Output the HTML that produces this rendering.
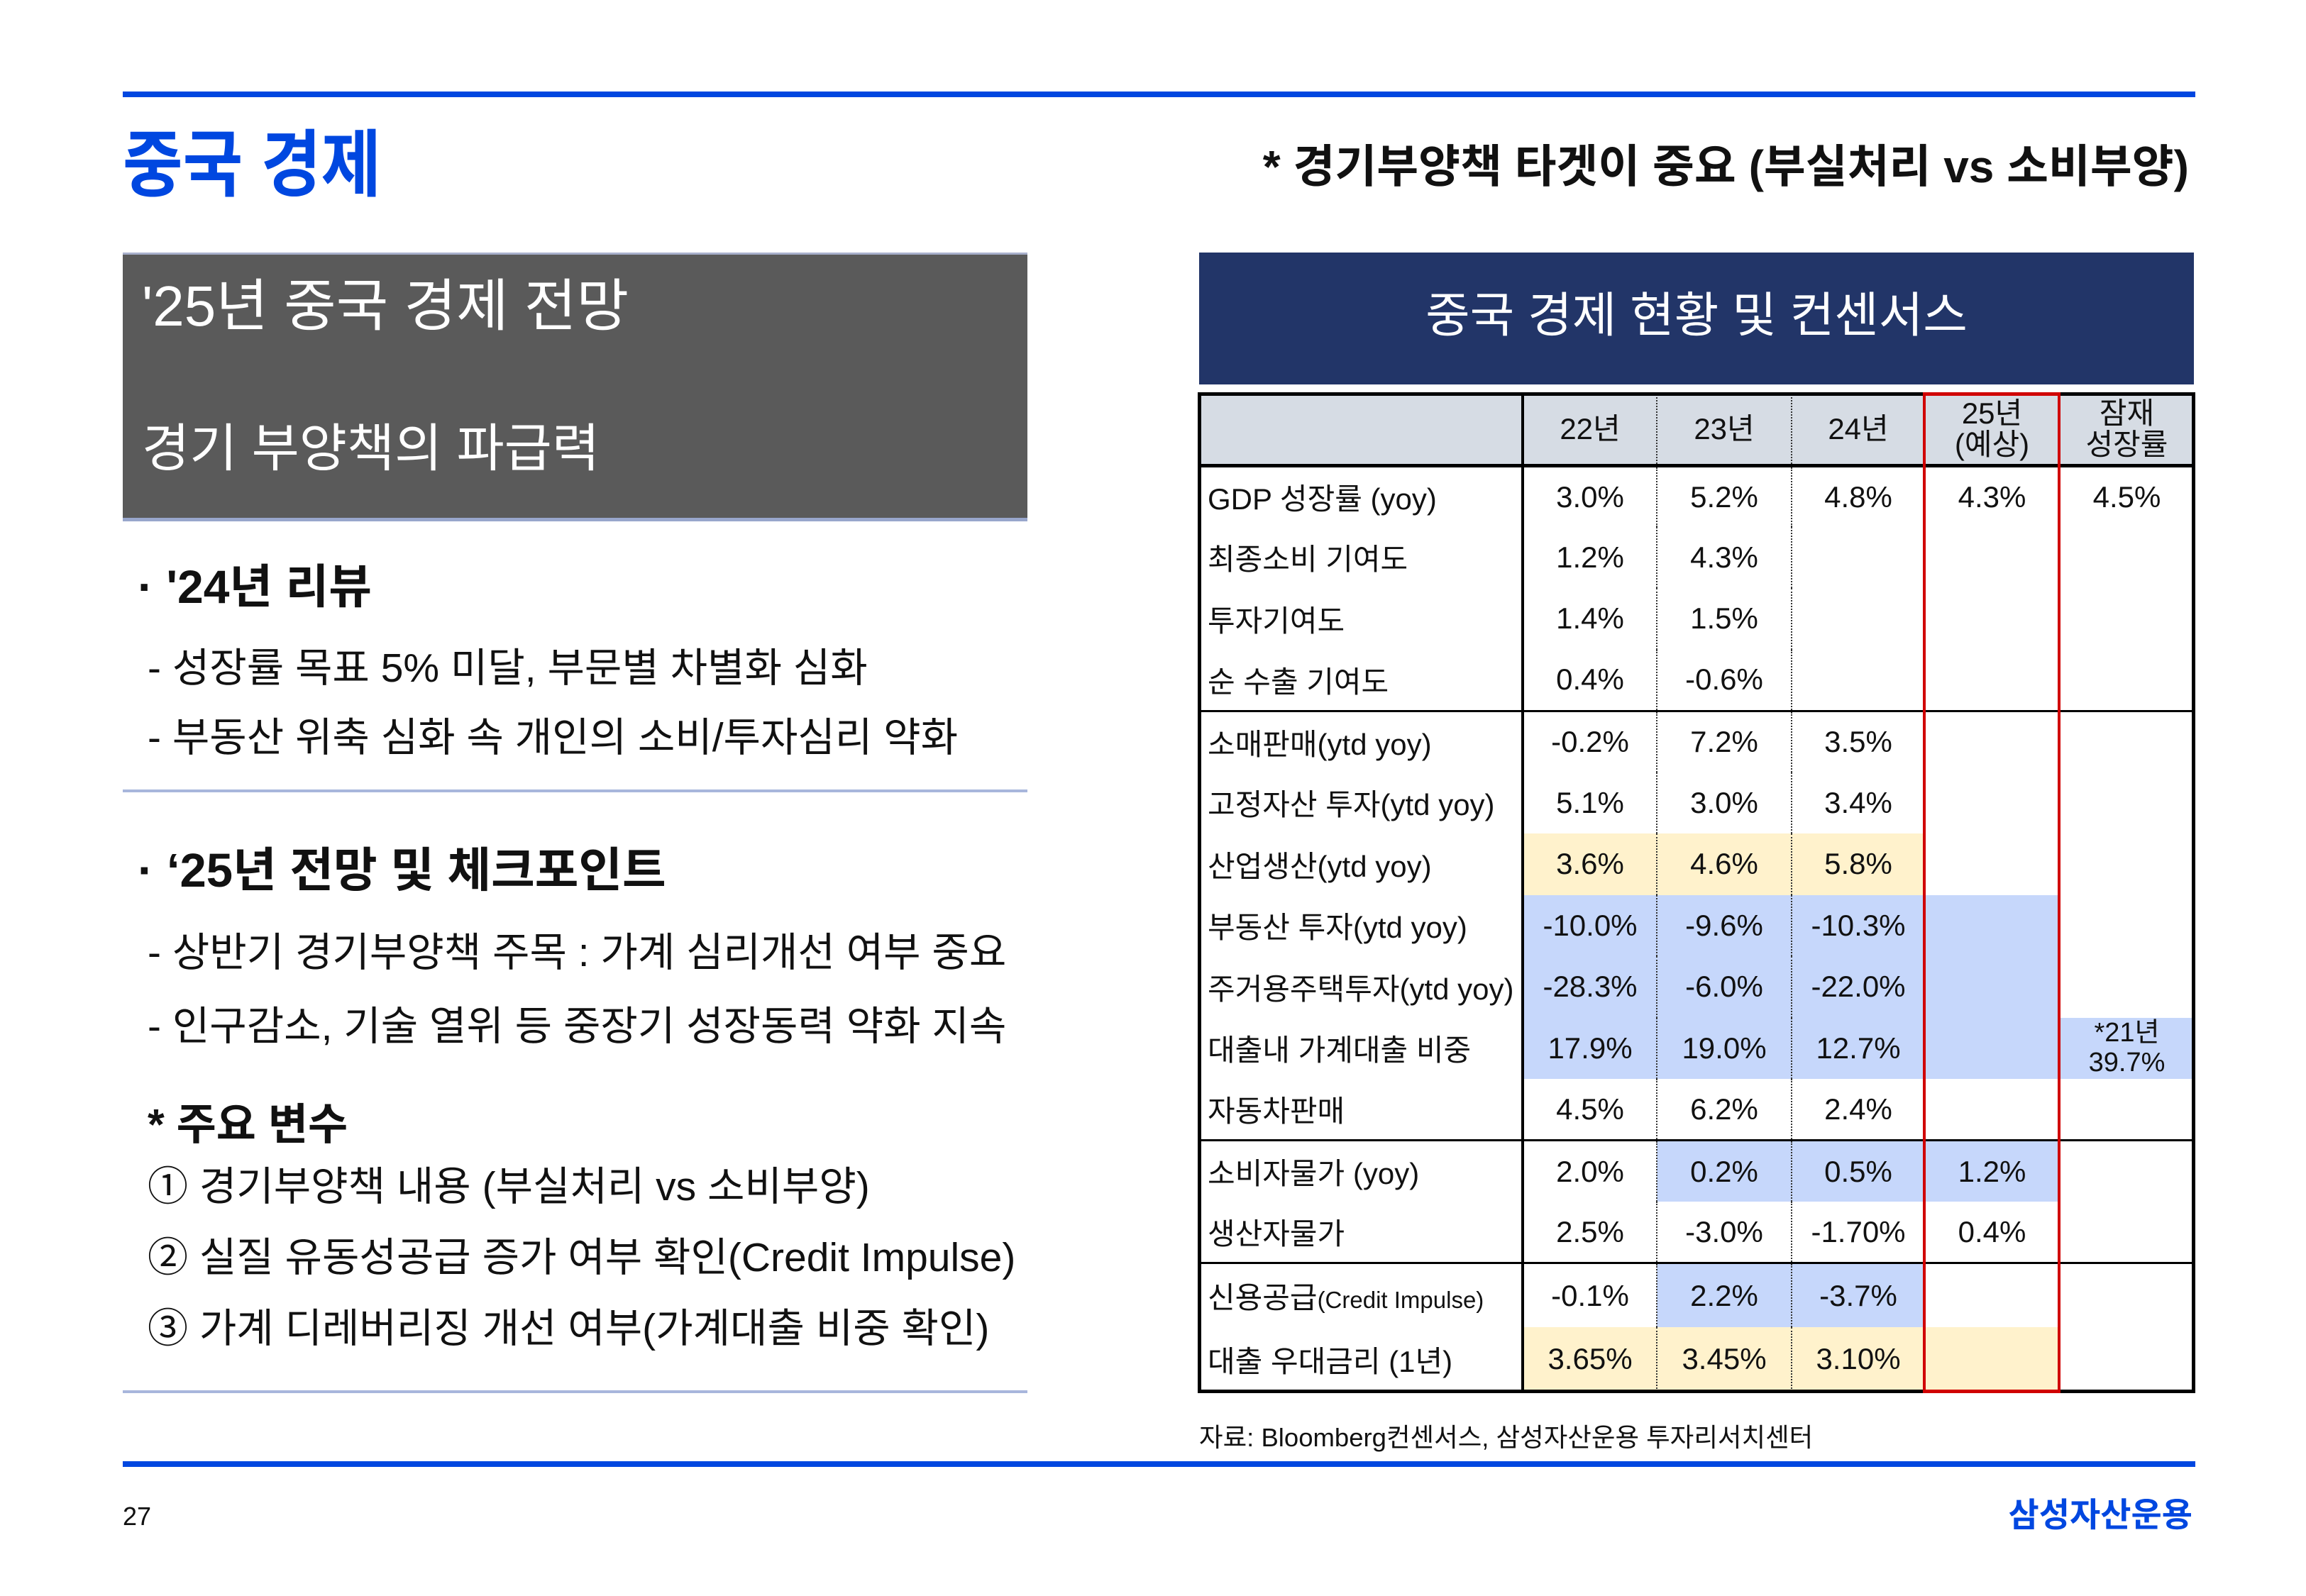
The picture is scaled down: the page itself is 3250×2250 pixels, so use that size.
<!DOCTYPE html>
<html><head><meta charset="utf-8">
<style>
*{margin:0;padding:0;box-sizing:border-box}
body{width:3250px;height:2250px;background:#fff;position:relative;overflow:hidden;font-family:"Liberation Sans","Noto Sans CJK KR",sans-serif;color:#111}
.a{position:absolute;white-space:nowrap;line-height:1}
.hl{position:absolute;height:8px;background:#0047e0}
.sep{position:absolute;left:173px;width:1275px;height:4px;background:#a8b6dc}
table{position:absolute;left:1690px;top:556px;width:1402px;border-collapse:collapse;table-layout:fixed;font-size:42px}
td{text-align:center;vertical-align:middle;white-space:nowrap;padding:0;border-left:2px dotted #333}
td:first-child{text-align:left;padding-left:12px;border-left:none;border-right:4px solid #000}
tr.h td{background:#d6dce4;height:100px;line-height:1.05;border-bottom:5px solid #000}
tr td{height:86.5px}
tr.g td{border-top:3px solid #000}
tr.r4 td{height:90.5px}
.y{background:#fff2cc}
.b{background:#c6d7fb}
</style></head><body>
<div class="hl" style="left:173px;top:129px;width:2921px"></div>
<div class="a" style="left:173px;top:182px;font-size:92px;font-weight:bold;color:#0047e0;transform:scaleY(1.12);transform-origin:top left">중국 경제</div>
<div class="a" style="right:165px;top:203px;font-size:64px;font-weight:bold">* 경기부양책 타겟이 중요 (부실처리 vs 소비부양)</div>

<div style="position:absolute;left:173px;top:356px;width:1275px;height:379px;background:#5a5a5a;border-top:3px solid #a8b0cc;border-bottom:5px solid #98a6cc"></div>
<div class="a" style="left:200px;top:392px;font-size:80px;color:#fff">'25년 중국 경제 전망</div>
<div class="a" style="left:200px;top:596px;font-size:73px;color:#fff">경기 부양책의 파급력</div>

<div class="a" style="left:194px;top:794px;font-size:66px;font-weight:bold">· '24년 리뷰</div>
<div class="a" style="left:208px;top:914px;font-size:57px">- 성장률 목표 5% 미달, 부문별 차별화 심화</div>
<div class="a" style="left:208px;top:1012px;font-size:57px">- 부동산 위축 심화 속 개인의 소비/투자심리 약화</div>
<div class="sep" style="top:1113px"></div>

<div class="a" style="left:194px;top:1194px;font-size:67px;font-weight:bold">· ‘25년 전망 및 체크포인트</div>
<div class="a" style="left:208px;top:1315px;font-size:57px">- 상반기 경기부양책 주목 : 가계 심리개선 여부 중요</div>
<div class="a" style="left:208px;top:1419px;font-size:57px">- 인구감소, 기술 열위 등 중장기 성장동력 약화 지속</div>
<div class="a" style="left:208px;top:1555px;font-size:61px;font-weight:bold">* 주요 변수</div>
<div class="a" style="left:208px;top:1645px;font-size:57px">① 경기부양책 내용 (부실처리 vs 소비부양)</div>
<div class="a" style="left:208px;top:1745px;font-size:57px">② 실질 유동성공급 증가 여부 확인(Credit Impulse)</div>
<div class="a" style="left:208px;top:1845px;font-size:57px">③ 가계 디레버리징 개선 여부(가계대출 비중 확인)</div>
<div class="sep" style="top:1960px"></div>

<div style="position:absolute;left:1690px;top:356px;width:1402px;height:186px;background:#223568"></div>
<div class="a" style="left:1690px;width:1402px;text-align:center;top:411px;font-size:68px;color:#fff">중국 경제 현황 및 컨센서스</div>

<table>
<colgroup><col style="width:456px"><col style="width:189px"><col style="width:190px"><col style="width:188px"><col style="width:189px"><col style="width:190px"></colgroup>
<tr class="h"><td></td><td>22년</td><td>23년</td><td>24년</td><td>25년<br>(예상)</td><td>잠재<br>성장률</td></tr>
<tr><td>GDP 성장률 (yoy)</td><td>3.0%</td><td>5.2%</td><td>4.8%</td><td>4.3%</td><td>4.5%</td></tr>
<tr><td>최종소비 기여도</td><td>1.2%</td><td>4.3%</td><td></td><td></td><td></td></tr>
<tr><td>투자기여도</td><td>1.4%</td><td>1.5%</td><td></td><td></td><td></td></tr>
<tr><td>순 수출 기여도</td><td>0.4%</td><td>-0.6%</td><td></td><td></td><td></td></tr>
<tr class="g"><td>소매판매(ytd yoy)</td><td>-0.2%</td><td>7.2%</td><td>3.5%</td><td></td><td></td></tr>
<tr><td>고정자산 투자(ytd yoy)</td><td>5.1%</td><td>3.0%</td><td>3.4%</td><td></td><td></td></tr>
<tr><td>산업생산(ytd yoy)</td><td class="y">3.6%</td><td class="y">4.6%</td><td class="y">5.8%</td><td></td><td></td></tr>
<tr><td>부동산 투자(ytd yoy)</td><td class="b">-10.0%</td><td class="b">-9.6%</td><td class="b">-10.3%</td><td class="b"></td><td></td></tr>
<tr><td>주거용주택투자(ytd yoy)</td><td class="b">-28.3%</td><td class="b">-6.0%</td><td class="b">-22.0%</td><td class="b"></td><td></td></tr>
<tr><td>대출내 가계대출 비중</td><td class="b">17.9%</td><td class="b">19.0%</td><td class="b">12.7%</td><td class="b"></td><td class="b" style="font-size:38px;line-height:1.1">*21년<br>39.7%</td></tr>
<tr><td>자동차판매</td><td>4.5%</td><td>6.2%</td><td>2.4%</td><td></td><td></td></tr>
<tr class="g"><td>소비자물가 (yoy)</td><td>2.0%</td><td class="b">0.2%</td><td class="b">0.5%</td><td class="b">1.2%</td><td></td></tr>
<tr><td>생산자물가</td><td>2.5%</td><td>-3.0%</td><td>-1.70%</td><td>0.4%</td><td></td></tr>
<tr class="g r4"><td>신용공급<span style="font-size:33px">(Credit Impulse)</span></td><td>-0.1%</td><td class="b">2.2%</td><td class="b">-3.7%</td><td></td><td></td></tr>
<tr class="r4"><td>대출 우대금리 (1년)</td><td class="y">3.65%</td><td class="y">3.45%</td><td class="y">3.10%</td><td class="y"></td><td></td></tr>
</table>
<div style="position:absolute;left:1688px;top:553px;width:1406px;height:1411px;border:5px solid #000;pointer-events:none"></div>
<div style="position:absolute;left:2710px;top:553px;width:194px;height:1411px;border:4px solid #d00000;border-top-width:5px;border-bottom-width:5px"></div>

<div class="a" style="left:1690px;top:2009px;font-size:36.5px">자료: Bloomberg컨센서스, 삼성자산운용 투자리서치센터</div>
<div class="hl" style="left:173px;top:2060px;width:2921px"></div>
<div class="a" style="left:173px;top:2120px;font-size:36px">27</div>
<div class="a" style="right:160px;top:2112px;font-size:47px;font-weight:bold;color:#0047e0">삼성자산운용</div>
</body></html>
